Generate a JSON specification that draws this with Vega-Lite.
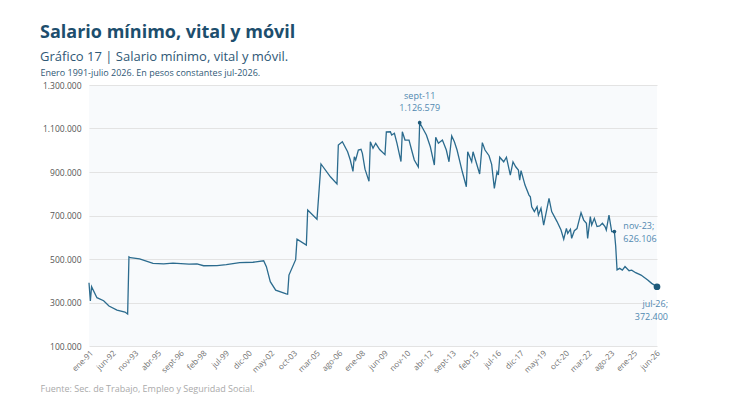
{
  "$schema": "https://vega.github.io/schema/vega-lite/v6.json",
  "width": 568,
  "height": 261,
  "autosize": "none",
  "padding": {"left": 89, "top": 85, "right": 73, "bottom": 55},
  "background": "white",
  "config": {
    "locale": {"number": {"decimal": ",", "thousands": ".", "grouping": [3], "currency": ["$", ""]}},
    "font": "Open Sans",
    "view": {"fill": "#f8fafc", "stroke": null}
  },
  "title": {
    "text": "Salario mínimo, vital y móvil",
    "subtitle": "Gráfico 17 | Salario mínimo, vital y móvil.",
    "anchor": "start",
    "frame": "group",
    "dx": -49,
    "offset": 4,
    "font": "Open Sans",
    "fontSize": 18,
    "fontWeight": "bold",
    "color": "#1d4e6d",
    "subtitleFont": "Open Sans",
    "subtitleFontSize": 13,
    "subtitleColor": "#2f5876",
    "subtitlePadding": 9
  },
  "datasets": {
    "smvm": [
      {"mes": "1991-01-01", "salario": 391000},
      {"mes": "1991-02-01", "salario": 307000},
      {"mes": "1991-03-01", "salario": 373000},
      {"mes": "1991-07-01", "salario": 322000},
      {"mes": "1991-12-01", "salario": 308000},
      {"mes": "1992-04-01", "salario": 284000},
      {"mes": "1992-10-01", "salario": 265000},
      {"mes": "1993-04-01", "salario": 256000},
      {"mes": "1993-06-01", "salario": 247000},
      {"mes": "1993-07-01", "salario": 510000},
      {"mes": "1993-08-01", "salario": 506000},
      {"mes": "1994-03-01", "salario": 501000},
      {"mes": "1995-01-01", "salario": 480000},
      {"mes": "1995-09-01", "salario": 478000},
      {"mes": "1996-04-01", "salario": 481000},
      {"mes": "1997-04-01", "salario": 476000},
      {"mes": "1997-10-01", "salario": 478000},
      {"mes": "1998-03-01", "salario": 469000},
      {"mes": "1999-01-01", "salario": 470000},
      {"mes": "1999-08-01", "salario": 474000},
      {"mes": "2000-06-01", "salario": 483000},
      {"mes": "2001-04-01", "salario": 485000},
      {"mes": "2001-12-01", "salario": 492000},
      {"mes": "2002-02-01", "salario": 465000},
      {"mes": "2002-05-01", "salario": 396000},
      {"mes": "2002-09-01", "salario": 357000},
      {"mes": "2003-05-01", "salario": 340000},
      {"mes": "2003-06-01", "salario": 338000},
      {"mes": "2003-07-01", "salario": 426000},
      {"mes": "2003-12-01", "salario": 497000},
      {"mes": "2004-01-01", "salario": 591000},
      {"mes": "2004-08-01", "salario": 564000},
      {"mes": "2004-09-01", "salario": 725000},
      {"mes": "2005-04-01", "salario": 683000},
      {"mes": "2005-07-01", "salario": 937000},
      {"mes": "2006-02-01", "salario": 878000},
      {"mes": "2006-07-01", "salario": 845000},
      {"mes": "2006-08-01", "salario": 1024000},
      {"mes": "2006-11-01", "salario": 1039000},
      {"mes": "2007-03-01", "salario": 993000},
      {"mes": "2007-05-01", "salario": 955000},
      {"mes": "2007-07-01", "salario": 903000},
      {"mes": "2007-08-01", "salario": 970000},
      {"mes": "2007-09-01", "salario": 955000},
      {"mes": "2007-11-01", "salario": 1001000},
      {"mes": "2008-01-01", "salario": 1004000},
      {"mes": "2008-02-01", "salario": 986000},
      {"mes": "2008-04-01", "salario": 913000},
      {"mes": "2008-07-01", "salario": 857000},
      {"mes": "2008-08-01", "salario": 1039000},
      {"mes": "2008-10-01", "salario": 1009000},
      {"mes": "2008-12-01", "salario": 1032000},
      {"mes": "2009-03-01", "salario": 1003000},
      {"mes": "2009-07-01", "salario": 980000},
      {"mes": "2009-08-01", "salario": 1084000},
      {"mes": "2009-11-01", "salario": 1085000},
      {"mes": "2009-12-01", "salario": 1070000},
      {"mes": "2010-02-01", "salario": 1078000},
      {"mes": "2010-04-01", "salario": 1032000},
      {"mes": "2010-07-01", "salario": 948000},
      {"mes": "2010-08-01", "salario": 1085000},
      {"mes": "2010-10-01", "salario": 1047000},
      {"mes": "2011-01-01", "salario": 1047000},
      {"mes": "2011-03-01", "salario": 1001000},
      {"mes": "2011-05-01", "salario": 955000},
      {"mes": "2011-08-01", "salario": 923000},
      {"mes": "2011-09-01", "salario": 1126579},
      {"mes": "2011-12-01", "salario": 1093000},
      {"mes": "2012-02-01", "salario": 1070000},
      {"mes": "2012-05-01", "salario": 1016000},
      {"mes": "2012-08-01", "salario": 932000},
      {"mes": "2012-09-01", "salario": 1060000},
      {"mes": "2012-11-01", "salario": 1032000},
      {"mes": "2013-02-01", "salario": 1047000},
      {"mes": "2013-05-01", "salario": 1001000},
      {"mes": "2013-07-01", "salario": 947000},
      {"mes": "2013-09-01", "salario": 1066000},
      {"mes": "2013-11-01", "salario": 1039000},
      {"mes": "2014-01-01", "salario": 1001000},
      {"mes": "2014-05-01", "salario": 901000},
      {"mes": "2014-08-01", "salario": 832000},
      {"mes": "2014-09-01", "salario": 993000},
      {"mes": "2014-12-01", "salario": 947000},
      {"mes": "2015-01-01", "salario": 993000},
      {"mes": "2015-06-01", "salario": 891000},
      {"mes": "2015-08-01", "salario": 1035000},
      {"mes": "2015-10-01", "salario": 1001000},
      {"mes": "2016-01-01", "salario": 975000},
      {"mes": "2016-03-01", "salario": 935000},
      {"mes": "2016-05-01", "salario": 825000},
      {"mes": "2016-07-01", "salario": 901000},
      {"mes": "2016-08-01", "salario": 886000},
      {"mes": "2016-09-01", "salario": 968000},
      {"mes": "2016-12-01", "salario": 947000},
      {"mes": "2017-02-01", "salario": 968000},
      {"mes": "2017-05-01", "salario": 886000},
      {"mes": "2017-07-01", "salario": 947000},
      {"mes": "2017-09-01", "salario": 924000},
      {"mes": "2017-11-01", "salario": 909000},
      {"mes": "2017-12-01", "salario": 863000},
      {"mes": "2018-01-01", "salario": 906000},
      {"mes": "2018-04-01", "salario": 840000},
      {"mes": "2018-07-01", "salario": 794000},
      {"mes": "2018-08-01", "salario": 786000},
      {"mes": "2018-09-01", "salario": 740000},
      {"mes": "2018-11-01", "salario": 718000},
      {"mes": "2019-01-01", "salario": 740000},
      {"mes": "2019-02-01", "salario": 702000},
      {"mes": "2019-04-01", "salario": 733000},
      {"mes": "2019-06-01", "salario": 656000},
      {"mes": "2019-10-01", "salario": 779000},
      {"mes": "2019-12-01", "salario": 718000},
      {"mes": "2020-04-01", "salario": 672000},
      {"mes": "2020-07-01", "salario": 633000},
      {"mes": "2020-09-01", "salario": 591000},
      {"mes": "2020-11-01", "salario": 641000},
      {"mes": "2020-12-01", "salario": 618000},
      {"mes": "2021-02-01", "salario": 637000},
      {"mes": "2021-03-01", "salario": 595000},
      {"mes": "2021-05-01", "salario": 630000},
      {"mes": "2021-07-01", "salario": 640000},
      {"mes": "2021-10-01", "salario": 713000},
      {"mes": "2021-12-01", "salario": 679000},
      {"mes": "2022-02-01", "salario": 664000},
      {"mes": "2022-03-01", "salario": 595000},
      {"mes": "2022-05-01", "salario": 695000},
      {"mes": "2022-06-01", "salario": 656000},
      {"mes": "2022-08-01", "salario": 687000},
      {"mes": "2022-10-01", "salario": 649000},
      {"mes": "2022-12-01", "salario": 652000},
      {"mes": "2023-02-01", "salario": 664000},
      {"mes": "2023-04-01", "salario": 649000},
      {"mes": "2023-05-01", "salario": 633000},
      {"mes": "2023-07-01", "salario": 702000},
      {"mes": "2023-09-01", "salario": 626000},
      {"mes": "2023-11-01", "salario": 626106},
      {"mes": "2023-12-01", "salario": 560000},
      {"mes": "2024-01-01", "salario": 450000},
      {"mes": "2024-03-01", "salario": 457000},
      {"mes": "2024-05-01", "salario": 449000},
      {"mes": "2024-07-01", "salario": 465000},
      {"mes": "2024-10-01", "salario": 446000},
      {"mes": "2024-12-01", "salario": 449000},
      {"mes": "2025-03-01", "salario": 437000},
      {"mes": "2025-07-01", "salario": 426000},
      {"mes": "2025-12-01", "salario": 403000},
      {"mes": "2026-03-01", "salario": 388000},
      {"mes": "2026-07-01", "salario": 372400}
    ],
    "anotaciones": [
      {"mes": "2011-09-01", "salario": 1126579, "texto": "sept-11\n1.126.579", "posicion": "arriba"},
      {"mes": "2023-11-01", "salario": 626106, "texto": "nov-23;\n626.106", "posicion": "derecha"},
      {"mes": "2026-07-01", "salario": 372400, "texto": "jul-26;\n372.400", "posicion": "abajo"}
    ]
  },
  "encoding": {
    "x": {
      "field": "mes",
      "type": "temporal",
      "scale": {
        "type": "utc",
        "nice": false,
        "domain": [
          {"year": 1991, "month": 1, "date": 1, "utc": true},
          {"year": 2026, "month": 7, "date": 1, "utc": true}
        ]
      },
      "axis": {
        "values": [
          {"year": 1991, "month": 1, "date": 1, "utc": true},
          {"year": 1992, "month": 6, "date": 1, "utc": true},
          {"year": 1993, "month": 11, "date": 1, "utc": true},
          {"year": 1995, "month": 4, "date": 1, "utc": true},
          {"year": 1996, "month": 9, "date": 1, "utc": true},
          {"year": 1998, "month": 2, "date": 1, "utc": true},
          {"year": 1999, "month": 7, "date": 1, "utc": true},
          {"year": 2000, "month": 12, "date": 1, "utc": true},
          {"year": 2002, "month": 5, "date": 1, "utc": true},
          {"year": 2003, "month": 10, "date": 1, "utc": true},
          {"year": 2005, "month": 3, "date": 1, "utc": true},
          {"year": 2006, "month": 8, "date": 1, "utc": true},
          {"year": 2008, "month": 1, "date": 1, "utc": true},
          {"year": 2009, "month": 6, "date": 1, "utc": true},
          {"year": 2010, "month": 11, "date": 1, "utc": true},
          {"year": 2012, "month": 4, "date": 1, "utc": true},
          {"year": 2013, "month": 9, "date": 1, "utc": true},
          {"year": 2015, "month": 2, "date": 1, "utc": true},
          {"year": 2016, "month": 7, "date": 1, "utc": true},
          {"year": 2017, "month": 12, "date": 1, "utc": true},
          {"year": 2019, "month": 5, "date": 1, "utc": true},
          {"year": 2020, "month": 10, "date": 1, "utc": true},
          {"year": 2022, "month": 3, "date": 1, "utc": true},
          {"year": 2023, "month": 8, "date": 1, "utc": true},
          {"year": 2025, "month": 1, "date": 1, "utc": true},
          {"year": 2026, "month": 6, "date": 1, "utc": true}
        ],
        "labelExpr": "['ene','feb','mar','abr','may','jun','jul','ago','sept','oct','nov','dic'][utcmonth(datum.value)] + '-' + utcFormat(datum.value, '%y')",
        "labelAngle": -45,
        "labelFontSize": 8,
        "labelColor": "#707070",
        "labelPadding": 3,
        "labelOverlap": false,
        "labelFlush": false,
        "labelBound": false,
        "grid": false,
        "domain": false,
        "ticks": false,
        "title": "Fuente: Sec. de Trabajo, Empleo y Seguridad Social.",
        "titleX": -49,
        "titleY": 45,
        "titleAlign": "left",
        "titleAnchor": "start",
        "titleBaseline": "alphabetic",
        "titleFontSize": 9,
        "titleFontWeight": "normal",
        "titleColor": "#aaaaaa"
      }
    },
    "y": {
      "field": "salario",
      "type": "quantitative",
      "scale": {"domain": [100000, 1300000], "nice": false, "zero": false},
      "axis": {
        "values": [100000, 300000, 500000, 700000, 900000, 1100000, 1300000],
        "format": ",d",
        "labelFontSize": 8.5,
        "labelColor": "#555555",
        "labelPadding": 8,
        "grid": true,
        "gridColor": "#e3e3e3",
        "gridWidth": 1,
        "domain": false,
        "ticks": false,
        "title": "Enero 1991-julio 2026. En pesos constantes jul-2026.",
        "titleAngle": 0,
        "titleX": -49,
        "titleY": -10,
        "titleAlign": "left",
        "titleAnchor": "start",
        "titleBaseline": "alphabetic",
        "titleFontSize": 9,
        "titleFontWeight": "normal",
        "titleColor": "#2f5876"
      }
    }
  },
  "layer": [
    {
      "data": {"name": "smvm"},
      "mark": {"type": "line", "color": "#2b6b8e", "strokeWidth": 1.3, "interpolate": "linear"}
    },
    {
      "data": {"name": "anotaciones"},
      "transform": [{"filter": "datum.posicion !== 'abajo'"}],
      "mark": {"type": "point", "filled": true, "color": "#1e5a7a", "opacity": 1, "size": 14}
    },
    {
      "data": {"name": "anotaciones"},
      "transform": [{"filter": "datum.posicion === 'abajo'"}],
      "mark": {"type": "point", "filled": true, "color": "#1e5a7a", "opacity": 1, "size": 45}
    },
    {
      "data": {"name": "anotaciones"},
      "transform": [{"filter": "datum.posicion === 'arriba'"}],
      "mark": {"type": "text", "lineBreak": "\n", "align": "center", "baseline": "bottom", "dy": -22, "fontSize": 9, "lineHeight": 12, "color": "#5088b0"},
      "encoding": {"text": {"field": "texto", "type": "nominal"}}
    },
    {
      "data": {"name": "anotaciones"},
      "transform": [{"filter": "datum.posicion === 'derecha'"}],
      "mark": {"type": "text", "lineBreak": "\n", "align": "left", "baseline": "top", "dx": 9, "dy": -10, "fontSize": 9, "lineHeight": 13, "color": "#5088b0"},
      "encoding": {"text": {"field": "texto", "type": "nominal"}}
    },
    {
      "data": {"name": "anotaciones"},
      "transform": [{"filter": "datum.posicion === 'abajo'"}],
      "mark": {"type": "text", "lineBreak": "\n", "align": "right", "baseline": "top", "dx": 11, "dy": 13, "fontSize": 9, "lineHeight": 13, "color": "#5088b0"},
      "encoding": {"text": {"field": "texto", "type": "nominal"}}
    }
  ]
}
